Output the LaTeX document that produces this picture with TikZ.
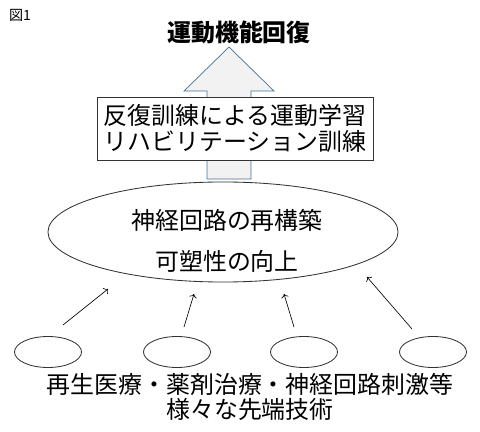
\documentclass[tikz,border=0pt]{standalone}
\usepackage{fontspec}
\setmainfont{Noto Sans CJK JP}
\usetikzlibrary{arrows.meta, shapes.geometric}
\definecolor{arrowfill}{HTML}{F2F2F2}
\definecolor{arrowline}{HTML}{41719C}

\begin{document}
\begin{tikzpicture}[x=0.025cm, y=-0.025cm, >=To,
  jp/.style={font=\fontsize{17}{19}\selectfont},
  box/.style={draw=black!80, line width=0.6pt, fill=white, minimum width=6.9cm, minimum height=1.575cm, align=center, inner sep=0pt},
  bigell/.style={draw=black!80, line width=0.6pt, ellipse, minimum width=8.75cm, minimum height=2.5cm, inner sep=0pt},
  smallell/.style={draw=black!80, line width=0.6pt, ellipse, minimum width=1.675cm, minimum height=0.775cm, inner sep=0pt},
  link/.style={->, line width=0.45pt}]

\useasboundingbox (0,0) rectangle (480,432);

\node[font=\fontsize{10}{12}\selectfont] (fig) at (20,15) {図1};
\node[font=\fontsize{17}{19}\selectfont\bfseries] (goal) at (239,32) {運動機能回復};

% ---- the big arrow, behind the box ----------------------------------------------
\draw[fill=arrowfill, draw=arrowline, line width=0.5pt]
  (229,47) -- (274,91) -- (251,91) -- (251,179) -- (207,179) -- (207,91) -- (184,91) -- cycle;

% ---- training box ----------------------------------------------------------------
\node[box, jp] (train) at (235,128.5) {反復訓練による運動学習\\リハビリテーション訓練};

% ---- rebuilding the circuits -----------------------------------------------------
\node[bigell] (circuit) at (223,232) {};
\node[jp] (c1) at (227,220) {神経回路の再構築};
\node[jp] (c2) at (227,261) {可塑性の向上};

% ---- the techniques --------------------------------------------------------------
\node[smallell] (e1) at (48,352) {};
\node[smallell] (e2) at (177,352) {};
\node[smallell] (e3) at (304,352) {};
\node[smallell] (e4) at (433,352) {};

\draw[link] ([shift={(15,-27)}]e1.center) -- ([shift={(-115,57)}]circuit.center);
\draw[link] ([shift={(7,-25)}]e2.center) -- ([shift={(-29,62)}]circuit.center);
\draw[link] ([shift={(-10,-25)}]e3.center) -- ([shift={(61,62)}]circuit.center);
\draw[link] ([shift={(-21,-23)}]e4.center) -- ([shift={(144,45)}]circuit.center);

\node[jp, align=center, font=\fontsize{17}{18}\selectfont] (tech) at (250,397)
  {再生医療・薬剤治療・神経回路刺激等\\様々な先端技術};

\end{tikzpicture}
\end{document}
